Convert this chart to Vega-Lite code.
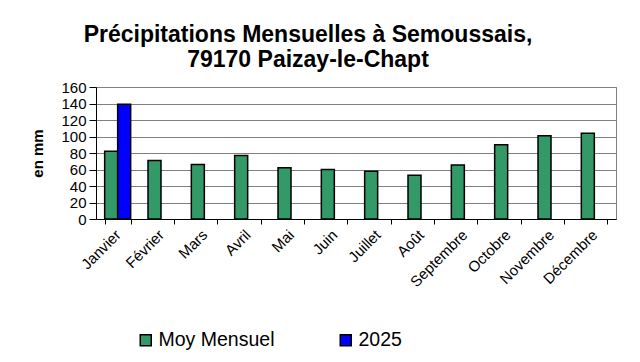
{
  "$schema": "https://vega.github.io/schema/vega-lite/v6.json",
  "width": 520,
  "height": 132,
  "autosize": {"type": "none"},
  "padding": {"left": 96, "top": 87, "right": 24, "bottom": 143},
  "background": "white",
  "config": {
    "font": "Liberation Sans",
    "view": {"stroke": "#808080", "strokeWidth": 1}
  },
  "title": {
    "text": ["Précipitations Mensuelles à Semoussais,", "79170 Paizay-le-Chapt"],
    "font": "Liberation Sans",
    "fontSize": 23,
    "fontWeight": "bold",
    "color": "black",
    "anchor": "middle",
    "dx": -48,
    "offset": 8,
    "lineHeight": 25
  },
  "data": {
    "values": [
      {"mois": "Janvier", "serie": "Moy Mensuel", "mm": 82},
      {"mois": "Janvier", "serie": "2025", "mm": 139},
      {"mois": "Février", "serie": "Moy Mensuel", "mm": 71},
      {"mois": "Mars", "serie": "Moy Mensuel", "mm": 66},
      {"mois": "Avril", "serie": "Moy Mensuel", "mm": 77},
      {"mois": "Mai", "serie": "Moy Mensuel", "mm": 62},
      {"mois": "Juin", "serie": "Moy Mensuel", "mm": 60},
      {"mois": "Juillet", "serie": "Moy Mensuel", "mm": 58},
      {"mois": "Août", "serie": "Moy Mensuel", "mm": 53},
      {"mois": "Septembre", "serie": "Moy Mensuel", "mm": 65.5},
      {"mois": "Octobre", "serie": "Moy Mensuel", "mm": 90},
      {"mois": "Novembre", "serie": "Moy Mensuel", "mm": 101},
      {"mois": "Décembre", "serie": "Moy Mensuel", "mm": 104}
    ]
  },
  "mark": {"type": "bar", "stroke": "black", "strokeWidth": 1.5},
  "encoding": {
    "x": {
      "field": "mois",
      "type": "nominal",
      "sort": ["Janvier", "Février", "Mars", "Avril", "Mai", "Juin", "Juillet", "Août", "Septembre", "Octobre", "Novembre", "Décembre"],
      "scale": {"paddingInner": 0.4, "paddingOuter": 0.2},
      "axis": {
        "title": null,
        "labelAngle": -45,
        "labelAlign": "right",
        "labelBaseline": "middle",
        "labelFontSize": 15,
        "labelColor": "black",
        "labelPadding": 8,
        "tickBand": "extent",
        "tickSize": 5,
        "tickColor": "black",
        "domainColor": "black",
        "grid": false
      }
    },
    "xOffset": {
      "field": "serie",
      "type": "nominal",
      "sort": ["Moy Mensuel", "2025"],
      "scale": {"domain": ["Moy Mensuel", "2025"], "paddingInner": 0, "paddingOuter": 0}
    },
    "y": {
      "field": "mm",
      "type": "quantitative",
      "scale": {"domain": [0, 160], "nice": false},
      "axis": {
        "title": "en mm",
        "titleFontSize": 15,
        "titleFontWeight": "bold",
        "titleColor": "black",
        "titlePadding": 15,
        "values": [0, 20, 40, 60, 80, 100, 120, 140, 160],
        "labelFontSize": 15,
        "labelColor": "black",
        "labelPadding": 3,
        "tickSize": 7,
        "tickColor": "black",
        "domainColor": "black",
        "gridColor": "#808080",
        "gridOpacity": 1
      }
    },
    "fill": {
      "field": "serie",
      "type": "nominal",
      "scale": {"domain": ["Moy Mensuel", "2025"], "range": ["#339966", "#0000FF"]},
      "legend": {
        "title": null,
        "orient": "none",
        "direction": "horizontal",
        "legendX": 40,
        "legendY": 243,
        "symbolType": "square",
        "symbolSize": 121,
        "symbolStrokeColor": "black",
        "symbolStrokeWidth": 1.5,
        "labelFontSize": 19.5,
        "labelColor": "black",
        "labelOffset": 3,
        "columnPadding": 61
      }
    }
  }
}
